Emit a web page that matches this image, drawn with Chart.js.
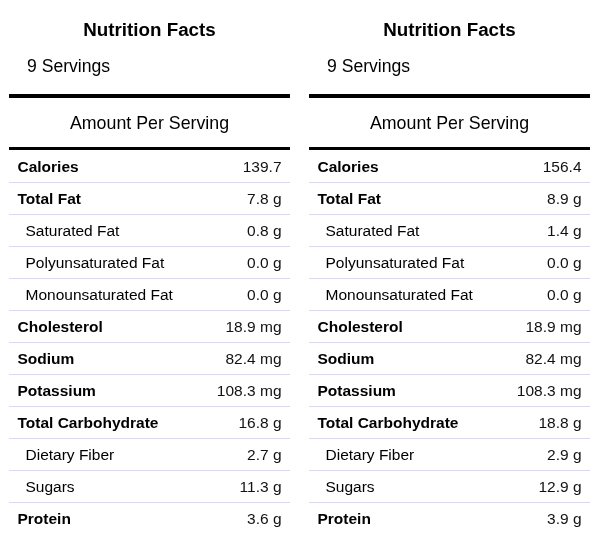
<!DOCTYPE html>
<html>
<head>
<meta charset="utf-8">
<script src="https://cdn.jsdelivr.net/npm/chart.js@4.4.1/dist/chart.umd.min.js"></script>
<style>
    html, body { margin: 0; padding: 0; background: #fff; }
    #wrap { position: relative; width: 600px; height: 534px; }
    .panel { position: absolute; top: 0; width: 300px; height: 534px; }
</style>
</head>
<body>
<div id="wrap">
    <div class="panel" style="left:0"><canvas id="etiquetaA"></canvas></div>
    <div class="panel" style="left:300px"><canvas id="etiquetaB"></canvas></div>
</div>
<script>
// datos de las dos etiquetas
const filas = ['Calories', 'Total Fat', 'Saturated Fat', 'Polyunsaturated Fat', 'Monounsaturated Fat',
    'Cholesterol', 'Sodium', 'Potassium', 'Total Carbohydrate', 'Dietary Fiber', 'Sugars', 'Protein'];
const subFilas = ['Saturated Fat', 'Polyunsaturated Fat', 'Monounsaturated Fat', 'Dietary Fiber', 'Sugars'];
const unidades = ['', 'g', 'g', 'g', 'g', 'mg', 'mg', 'mg', 'g', 'g', 'g', 'g'];
const valoresA = [139.7, 7.8, 0.8, 0.0, 0.0, 18.9, 82.4, 108.3, 16.8, 2.7, 11.3, 3.6];
const valoresB = [156.4, 8.9, 1.4, 0.0, 0.0, 18.9, 82.4, 108.3, 18.8, 2.9, 12.9, 3.9];
const porciones = 9;
const titulo = 'Nutrition Facts';
const encabezado = 'Amount Per Serving';

const fuente = "Arial, 'Liberation Sans', Helvetica, sans-serif";

function formato(v, u) {
    return v.toFixed(1) + (u ? ' ' + u : '');
}

const pluginEtiqueta = {
    id: 'etiqueta',
    afterDraw(chart) {
        const ctx = chart.ctx;
        const area = chart.chartArea;
        const y = chart.scales.y;
        const valores = chart.options.plugins.etiqueta.valores;
        const banda = y.getPixelForValue(1) - y.getPixelForValue(0);
        const centro = (area.left + area.right) / 2;

        ctx.save();
        ctx.fillStyle = '#000';
        ctx.textBaseline = 'alphabetic';

        // cabecera
        ctx.textAlign = 'center';
        ctx.font = 'bold 18.8px ' + fuente;
        ctx.fillText(titulo, centro, area.top - 114);
        ctx.textAlign = 'left';
        ctx.font = '17.6px ' + fuente;
        ctx.fillText(porciones + ' Servings', area.left + 18, area.top - 78);
        ctx.fillRect(area.left, area.top - 56, area.right - area.left, 4);
        ctx.textAlign = 'center';
        ctx.font = '17.8px ' + fuente;
        ctx.fillText(encabezado, centro, area.top - 21);
        ctx.fillRect(area.left, area.top - 3, area.right - area.left, 3);

        // filas
        ctx.textBaseline = 'middle';
        filas.forEach((nombre, i) => {
            const yc = y.getPixelForValue(i) + 1.5;
            const sub = subFilas.includes(nombre);
            ctx.fillStyle = '#000';
            ctx.textAlign = 'left';
            ctx.font = (sub ? '' : 'bold ') + '15.5px ' + fuente;
            ctx.fillText(nombre, area.left + (sub ? 16.5 : 8.5), yc);
            ctx.fillStyle = '#111';
            ctx.textAlign = 'right';
            ctx.font = '15.5px ' + fuente;
            ctx.fillText(formato(valores[i], unidades[i]), area.right - 8.5, yc);
            if (i < filas.length - 1) {
                ctx.fillStyle = '#d8d8ef';
                ctx.fillRect(area.left, Math.round(y.getPixelForValue(i) + banda / 2), area.right - area.left, 1);
            }
        });
        ctx.restore();
    }
};

function crearEtiqueta(id, valores) {
    return new Chart(document.getElementById(id), {
        type: 'bar',
        data: { labels: filas, datasets: [] },
        options: {
            responsive: true,
            maintainAspectRatio: false,
            animation: false,
            devicePixelRatio: 1,
            indexAxis: 'y',
            layout: { padding: { top: 150, bottom: 0, left: 9, right: 10 } },
            scales: {
                y: { type: 'category', display: false, offset: true },
                x: { type: 'linear', display: false, min: 0, max: 1 }
            },
            plugins: {
                legend: { display: false },
                tooltip: { enabled: false },
                etiqueta: { valores: valores }
            }
        },
        plugins: [pluginEtiqueta]
    });
}

crearEtiqueta('etiquetaA', valoresA);
crearEtiqueta('etiquetaB', valoresB);
</script>
</body>
</html>
